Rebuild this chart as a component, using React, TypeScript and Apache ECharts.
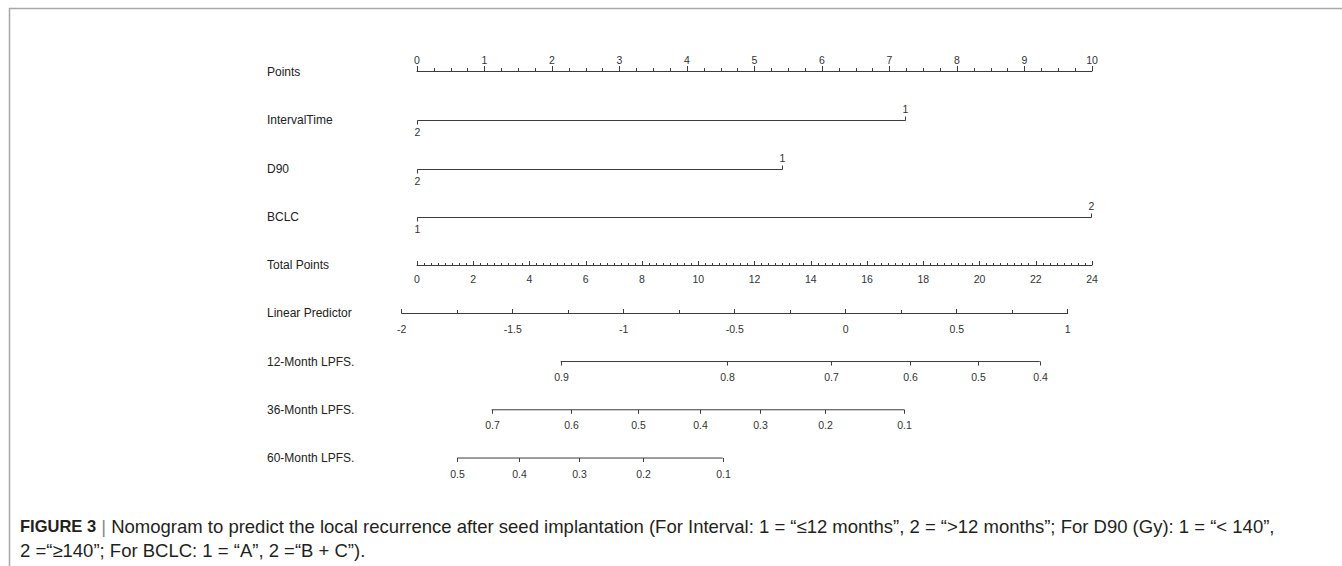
import React, { useEffect, useRef } from 'react';
import * as echarts from 'echarts';

// ---- data ----
const rowNames = [
  'Points',
  'IntervalTime',
  'D90',
  'BCLC',
  'Total Points',
  'Linear Predictor',
  '12-Month LPFS.',
  '36-Month LPFS.',
  '60-Month LPFS.',
];

const pointsMin = 0;
const pointsMax = 10;
const pointsInterval = 1;

const covariateNames = ['IntervalTime', 'D90', 'BCLC'];
const covariatePoints = [7.25, 5.42, 10];
const covariateLowLabels = ['2', '2', '1'];
const covariateHighLabels = ['1', '1', '2'];

const totalPointsMin = 0;
const totalPointsMax = 24;
const totalPointsInterval = 2;

const lpMin = -2;
const lpMax = 1;
const lpInterval = 0.5;

const lpfs12Labels = ['0.9', '0.8', '0.7', '0.6', '0.5', '0.4'];
const lpfs12LP = [-1.284, -0.536, -0.066, 0.29, 0.595, 0.874];
const lpfs36Labels = ['0.7', '0.6', '0.5', '0.4', '0.3', '0.2', '0.1'];
const lpfs36LP = [-1.595, -1.237, -0.934, -0.656, -0.385, -0.095, 0.264];
const lpfs60Labels = ['0.5', '0.4', '0.3', '0.2', '0.1'];
const lpfs60LP = [-1.75, -1.472, -1.2, -0.912, -0.554];

const lpfsRows = [
  { name: '12-Month LPFS.', labels: lpfs12Labels, lp: lpfs12LP },
  { name: '36-Month LPFS.', labels: lpfs36Labels, lp: lpfs36LP },
  { name: '60-Month LPFS.', labels: lpfs60Labels, lp: lpfs60LP },
];

const captionLine1 =
  'Nomogram to predict the local recurrence after seed implantation (For Interval: 1 = \u201c\u226412 months\u201d, 2 = \u201c>12 months\u201d; For D90 (Gy): 1 = \u201c< 140\u201d,';
const captionLine2 = '2 =\u201c\u2265140\u201d; For BCLC: 1 = \u201cA\u201d, 2 =\u201cB + C\u201d).';

// ---- styles ----
const FONT = '"Liberation Sans", Arial, Helvetica, sans-serif';
const CAP_FONT = '"Liberation Sans Narrow", "Liberation Sans", Arial, sans-serif';
const AX = '#3c3c3c';
const TXT = '#333333';
const TICK_FS = 10.5;
const CAP_FS = 18.5;

const W = 1342;
const H = 566;
const pLeft = 417;
const pWidth = 675;
const lpLeft = 401.7;
const lpWidth = 666;
const rowsTop = 47.9;
const rowsHeight = 434.25;

export default function App() {
  const ref = useRef<HTMLDivElement>(null);

  useEffect(() => {
    document.body.style.margin = '0';
    document.body.style.overflow = 'hidden';
    if (!ref.current) return;
    const chart = echarts.init(ref.current, undefined, { renderer: 'svg' });

    const hiddenY = (gridIndex: number) => ({
      gridIndex,
      type: 'value',
      show: false,
      min: 0,
      max: 1,
    });

    const covRowIndex = covariateNames.map((n) => rowNames.indexOf(n));

    const series: any[] = [];

    // covariate rows (points scale, grid 0)
    series.push({
      type: 'custom',
      xAxisIndex: 0,
      yAxisIndex: 0,
      silent: true,
      data: covariateNames.map((n, i) => [pointsMin, covariatePoints[i], covRowIndex[i]]),
      encode: { x: [0, 1], y: 2 },
      renderItem: (params: any, api: any) => {
        const idx = params.dataIndex;
        const row = api.value(2);
        const a = api.coord([api.value(0), row]);
        const b = api.coord([api.value(1), row]);
        const y = Math.round(a[1]) + 0.5;
        const x0 = Math.round(a[0]) + 0.5;
        const x1 = Math.round(b[0]) - 0.5;
        const ls = { stroke: AX, lineWidth: 1 };
        return {
          type: 'group',
          children: [
            { type: 'line', shape: { x1: x0, y1: y, x2: x1, y2: y }, style: ls },
            { type: 'line', shape: { x1: x0, y1: y, x2: x0, y2: y + 4 }, style: ls },
            { type: 'line', shape: { x1: x1, y1: y, x2: x1, y2: y - 4 }, style: ls },
            {
              type: 'text',
              style: {
                text: covariateLowLabels[idx],
                x: x0,
                y: y + 6,
                align: 'center',
                verticalAlign: 'top',
                fontSize: TICK_FS,
                fontFamily: FONT,
                fill: TXT,
              },
            },
            {
              type: 'text',
              style: {
                text: covariateHighLabels[idx],
                x: x1,
                y: y - 6,
                align: 'center',
                verticalAlign: 'bottom',
                fontSize: TICK_FS,
                fontFamily: FONT,
                fill: TXT,
              },
            },
          ],
        };
      },
    });

    // LPFS rows (linear predictor scale, grid 4)
    lpfsRows.forEach((r) => {
      const rowIdx = rowNames.indexOf(r.name);
      series.push({
        type: 'line',
        xAxisIndex: 4,
        yAxisIndex: 4,
        silent: true,
        symbol: 'none',
        lineStyle: { color: AX, width: 1 },
        data: [
          [r.lp[0], rowIdx],
          [r.lp[r.lp.length - 1], rowIdx],
        ],
      });
      series.push({
        type: 'custom',
        xAxisIndex: 4,
        yAxisIndex: 4,
        silent: true,
        data: r.lp.map((v, i) => [v, rowIdx, r.labels[i]]),
        encode: { x: 0, y: 1 },
        renderItem: (params: any, api: any) => {
          const p = api.coord([api.value(0), api.value(1)]);
          const x = Math.round(p[0]) + 0.5;
          const y = p[1];
          return {
            type: 'group',
            children: [
              {
                type: 'line',
                shape: { x1: x, y1: y, x2: x, y2: y + 4 },
                style: { stroke: AX, lineWidth: 1 },
              },
              {
                type: 'text',
                style: {
                  text: r.labels[params.dataIndex],
                  x,
                  y: y + 10,
                  align: 'center',
                  verticalAlign: 'top',
                  fontSize: TICK_FS,
                  fontFamily: FONT,
                  fill: TXT,
                },
              },
            ],
          };
        },
      });
    });

    const axisCommon = {
      type: 'value',
      axisLine: { show: true, lineStyle: { color: AX, width: 1 } },
      splitLine: { show: false },
      axisLabel: { fontSize: TICK_FS, color: TXT, fontFamily: FONT },
    };

    const option: any = {
      animation: false,
      backgroundColor: '#ffffff',
      grid: [
        { left: pLeft, width: pWidth, top: rowsTop, height: rowsHeight },
        { left: pLeft, width: pWidth, top: 70, height: 1 },
        { left: pLeft, width: pWidth, top: 264, height: 1 },
        { left: lpLeft, width: lpWidth, top: 312, height: 1 },
        { left: lpLeft, width: lpWidth, top: rowsTop, height: rowsHeight },
      ],
      xAxis: [
        { gridIndex: 0, type: 'value', min: pointsMin, max: pointsMax, show: false },
        {
          ...axisCommon,
          gridIndex: 1,
          position: 'top',
          min: pointsMin,
          max: pointsMax,
          interval: pointsInterval,
          axisTick: { show: true, length: 5, lineStyle: { color: AX } },
          minorTick: { show: true, splitNumber: 4, length: 3, lineStyle: { color: AX } },
          axisLabel: { ...axisCommon.axisLabel, margin: 5 },
        },
        {
          ...axisCommon,
          gridIndex: 2,
          position: 'bottom',
          min: totalPointsMin,
          max: totalPointsMax,
          interval: totalPointsInterval,
          axisTick: { show: true, inside: true, length: 4, lineStyle: { color: AX } },
          minorTick: { show: true, splitNumber: 8, length: 2, lineStyle: { color: AX } },
          axisLabel: { ...axisCommon.axisLabel, margin: 8 },
        },
        {
          ...axisCommon,
          gridIndex: 3,
          position: 'bottom',
          min: lpMin,
          max: lpMax,
          interval: lpInterval,
          axisTick: { show: true, inside: true, length: 4, lineStyle: { color: AX } },
          minorTick: { show: true, splitNumber: 2, length: 3, lineStyle: { color: AX } },
          axisLabel: { ...axisCommon.axisLabel, margin: 10 },
        },
        { gridIndex: 4, type: 'value', min: lpMin, max: lpMax, show: false },
      ],
      yAxis: [
        {
          gridIndex: 0,
          type: 'category',
          inverse: true,
          data: rowNames,
          axisLine: { show: false },
          axisTick: { show: false },
          splitLine: { show: false },
          axisLabel: {
            align: 'left',
            margin: pLeft - 267,
            fontSize: 12,
            color: '#222222',
            fontFamily: FONT,
          },
        },
        hiddenY(1),
        hiddenY(2),
        hiddenY(3),
        {
          gridIndex: 4,
          type: 'category',
          inverse: true,
          data: rowNames,
          show: false,
        },
      ],
      graphic: [
        {
          type: 'line',
          shape: { x1: 9, y1: 8.5, x2: W, y2: 8.5 },
          style: { stroke: '#a8a8a8', lineWidth: 1.5 },
          silent: true,
        },
        {
          type: 'line',
          shape: { x1: 9.5, y1: 8, x2: 9.5, y2: H },
          style: { stroke: '#a8a8a8', lineWidth: 1.5 },
          silent: true,
        },
        {
          type: 'text',
          x: 20,
          y: 526,
          silent: true,
          style: {
            text: '{b|FIGURE 3} {s||} ' + captionLine1,
            verticalAlign: 'middle',
            fontSize: CAP_FS,
            fontFamily: CAP_FONT,
            fill: '#231f20',
            rich: {
              b: {
                fontWeight: 'bold',
                fontSize: 16.5,
                fontFamily: FONT,
                fill: '#231f20',
              },
              s: {
                fontSize: CAP_FS,
                fontFamily: CAP_FONT,
                fill: '#888888',
              },
            },
          },
        },
        {
          type: 'text',
          x: 20,
          y: 550,
          silent: true,
          style: {
            text: captionLine2,
            verticalAlign: 'middle',
            fontSize: CAP_FS,
            fontFamily: CAP_FONT,
            fill: '#231f20',
          },
        },
      ],
      series,
    };

    chart.setOption(option);
    return () => {
      chart.dispose();
    };
  }, []);

  return <div ref={ref} style={{ width: W, height: H }} />;
}
